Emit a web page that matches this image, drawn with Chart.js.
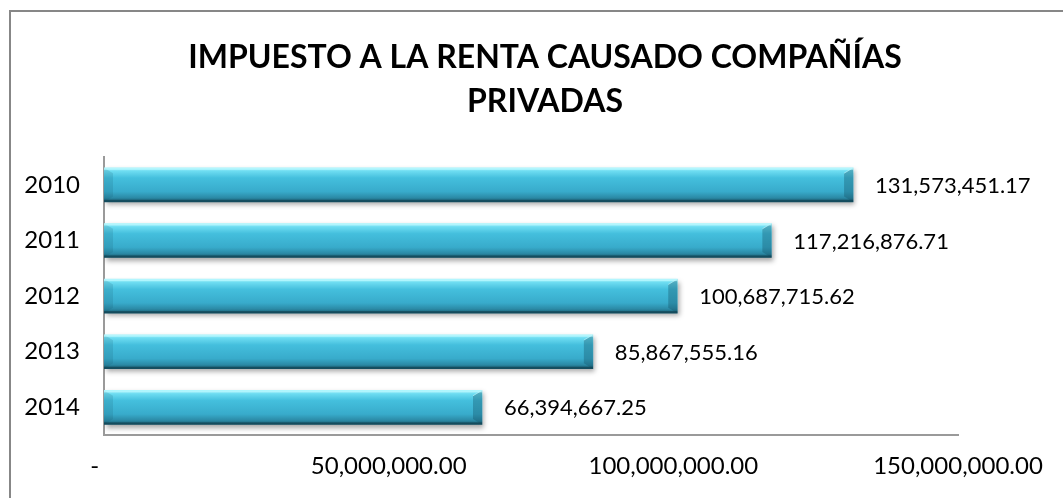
<!DOCTYPE html>
<html>
<head>
<meta charset="utf-8">
<script src="https://cdn.jsdelivr.net/npm/chart.js@4/dist/chart.umd.min.js"></script>
<style>
  html, body { margin: 0; padding: 0; background: #fff; overflow: hidden; }
  #frame { position: absolute; left: 9px; top: 10px; width: 2000px; height: 2000px;
           border-left: 2px solid #878787; border-top: 2px solid #878787; }
  #wrap { position: absolute; left: 0; top: 0; width: 1063px; height: 498px; }
</style>
</head>
<body>
<div id="frame"></div>
<div id="wrap"><canvas id="chart"></canvas></div>
<script>
let years = ['2010', '2011', '2012', '2013', '2014'];
let impuesto = [131573451.17, 117216876.71, 100687715.62, 85867555.16, 66394667.25];
let xTicks = [0, 50000000, 100000000, 150000000];
let titleLines = ['IMPUESTO A LA RENTA CAUSADO COMPAÑÍAS', 'PRIVADAS'];

let FONT = 'Lato';

function money(v) {
  return v.toLocaleString('en-US', { minimumFractionDigits: 2, maximumFractionDigits: 2 });
}

// vertical gradient per bar, built from the scale position of the bar
function barFill(ctx) {
  let chart = ctx.chart;
  let y = chart.scales.y;
  if (!y || ctx.dataIndex === undefined) return '#3bb0d0';
  let c = y.getPixelForValue(ctx.dataIndex);
  if (!isFinite(c)) return '#3bb0d0';
  let h = 34 / 2;
  let g = chart.ctx.createLinearGradient(0, c - h, 0, c + h);
  g.addColorStop(0, '#a6f3fc');
  g.addColorStop(0.1, '#6ddcf1');
  g.addColorStop(0.3, '#44bfdd');
  g.addColorStop(0.7, '#38abcb');
  g.addColorStop(0.88, '#2b8aa6');
  g.addColorStop(1, '#1a5a6d');
  return g;
}

let shadowPlugin = {
  id: 'shadow',
  beforeDatasetDraw(chart) {
    let c = chart.ctx;
    c.save();
    c.shadowColor = 'rgba(0,0,0,0.35)';
    c.shadowBlur = 5;
    c.shadowOffsetX = 2;
    c.shadowOffsetY = 3;
  },
  afterDatasetDraw(chart) {
    chart.ctx.restore();
  }
};

// bevelled ends, value labels and the title (centred on the whole page)
let bevelPlugin = {
  id: 'bevel',
  afterDatasetsDraw(chart) {
    let c = chart.ctx;
    let meta = chart.getDatasetMeta(0);
    meta.data.forEach((bar, i) => {
      let p = bar.getProps(['x', 'y', 'base', 'height'], true);
      let top = p.y - p.height / 2, bot = p.y + p.height / 2;
      let b = 9;
      c.save();
      // right end, darker facet
      c.beginPath();
      c.moveTo(p.x, top);
      c.lineTo(p.x, bot);
      c.lineTo(p.x - b, bot - b * 0.6);
      c.lineTo(p.x - b, top + b * 0.6);
      c.closePath();
      c.fillStyle = 'rgba(20,80,100,0.35)';
      c.fill();
      c.strokeStyle = 'rgba(200,250,255,0.6)';
      c.lineWidth = 1;
      c.beginPath();
      c.moveTo(p.x - b, top + b * 0.6);
      c.lineTo(p.x, top);
      c.stroke();
      // left end, lighter facet
      c.beginPath();
      c.moveTo(p.base, top);
      c.lineTo(p.base + b, top + b * 0.6);
      c.lineTo(p.base + b, bot - b * 0.6);
      c.lineTo(p.base, bot);
      c.closePath();
      c.fillStyle = 'rgba(20,80,100,0.15)';
      c.fill();
      // top highlight line
      c.fillStyle = 'rgba(190,250,255,0.7)';
      c.fillRect(p.base, top, p.x - p.base, 2);
      // bottom dark line
      c.fillStyle = 'rgba(15,60,75,0.6)';
      c.fillRect(p.base, bot - 2, p.x - p.base, 2);

      c.fillStyle = '#000';
      c.font = '22px ' + FONT;
      c.textAlign = 'left';
      c.textBaseline = 'middle';
      c.fillText(money(impuesto[i]), p.x + 22, p.y + 1);
      c.restore();
    });

    c.save();
    c.fillStyle = '#000';
    c.font = 'bold 32px ' + FONT;
    c.textAlign = 'center';
    c.textBaseline = 'middle';
    titleLines.forEach((t, i) => c.fillText(t, 545, 58 + i * 44));
    c.restore();
  }
};

let chart = new Chart(document.getElementById('chart').getContext('2d'), {
  type: 'bar',
  data: {
    labels: years,
    datasets: [{
      label: 'Impuesto a la renta causado',
      data: impuesto,
      backgroundColor: barFill,
      borderWidth: 0,
      barThickness: 34
    }]
  },
  options: {
    indexAxis: 'y',
    responsive: true,
    maintainAspectRatio: false,
    animation: false,
    layout: { padding: { left: 0, right: 105, top: 157, bottom: 0 } },
    plugins: {
      legend: { display: false },
      tooltip: { enabled: false },
      title: { display: false }
    },
    scales: {
      x: {
        min: 0,
        max: 150000000,
        afterBuildTicks(scale) {
          scale.ticks = xTicks.map(v => ({ value: v }));
        },
        grid: { display: false, drawTicks: false },
        border: { display: true, color: '#9a9a9a', width: 2 },
        ticks: {
          color: '#000',
          font: { family: FONT, size: 24 },
          padding: 17,
          maxRotation: 0,
          autoSkip: false,
          callback: v => v === 0 ? '-   ' : money(v)
        }
      },
      y: {
        afterFit(scale) { scale.width = 104; },
        grid: { display: false, drawTicks: false },
        border: { display: true, color: '#9a9a9a', width: 2 },
        ticks: {
          color: '#000',
          font: { family: FONT, size: 24 },
          padding: 24
        }
      }
    }
  },
  plugins: [shadowPlugin, bevelPlugin]
});
</script>
</body>
</html>
